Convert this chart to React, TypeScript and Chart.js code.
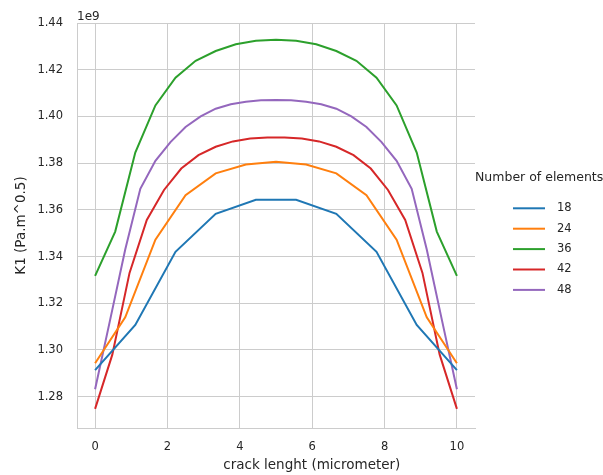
import React, { useEffect, useRef } from 'react';
import { Chart, registerables } from 'chart.js';

Chart.register(...registerables);

// ---- data (K1 values in units of 1e9 Pa.m^0.5) ----
const SERIES_LABELS = ['18', '24', '36', '42', '48'];

const X_18 = [0, 1.111, 2.222, 3.333, 4.444, 5.556, 6.667, 7.778, 8.889, 10];
const K1_18 = [1.2914, 1.3107, 1.342, 1.3583, 1.3643, 1.3643, 1.3583, 1.342, 1.3107, 1.2914];

const X_24 = [0, 0.833, 1.667, 2.5, 3.333, 4.167, 5, 5.833, 6.667, 7.5, 8.333, 9.167, 10];
const K1_24 = [1.2943, 1.314, 1.3472, 1.3663, 1.3756, 1.3794, 1.3806, 1.3794, 1.3756, 1.3663, 1.3472, 1.314, 1.2943];

const X_36 = [0, 0.556, 1.111, 1.667, 2.222, 2.778, 3.333, 3.889, 4.444, 5, 5.556, 6.111, 6.667, 7.222, 7.778, 8.333, 8.889, 9.444, 10];
const K1_36 = [1.3317, 1.3507, 1.3845, 1.4047, 1.4166, 1.4238, 1.428, 1.4309, 1.4324, 1.4328, 1.4324, 1.4309, 1.428, 1.4238, 1.4166, 1.4047, 1.3845, 1.3507, 1.3317];

const X_42 = [0, 0.476, 0.952, 1.429, 1.905, 2.381, 2.857, 3.333, 3.81, 4.286, 4.762, 5.238, 5.714, 6.19, 6.667, 7.143, 7.619, 8.095, 8.571, 9.048, 9.524, 10];
const K1_42 = [1.2748, 1.298, 1.333, 1.3557, 1.3685, 1.3777, 1.3834, 1.387, 1.3893, 1.3905, 1.391, 1.391, 1.3905, 1.3893, 1.387, 1.3834, 1.3777, 1.3685, 1.3557, 1.333, 1.298, 1.2748];

const X_48 = [0, 0.417, 0.833, 1.25, 1.667, 2.083, 2.5, 2.917, 3.333, 3.75, 4.167, 4.583, 5, 5.417, 5.833, 6.25, 6.667, 7.083, 7.5, 7.917, 8.333, 8.75, 9.167, 9.583, 10];
const K1_48 = [1.2832, 1.313, 1.343, 1.369, 1.381, 1.389, 1.3955, 1.4, 1.4033, 1.4052, 1.4063, 1.4069, 1.407, 1.4069, 1.4063, 1.4052, 1.4033, 1.4, 1.3955, 1.389, 1.381, 1.369, 1.343, 1.313, 1.2832];

const X_TICKS = [0, 2, 4, 6, 8, 10];
const Y_TICKS = [1.28, 1.3, 1.32, 1.34, 1.36, 1.38, 1.4, 1.42, 1.44];
const Y_OFFSET_LABEL = '1e9';
const X_TITLE = 'crack lenght (micrometer)';
const Y_TITLE = 'K1 (Pa.m^0.5)';
const LEGEND_TITLE = 'Number of elements';

const COLORS = ['#1f77b4', '#ff7f0e', '#2ca02c', '#d62728', '#9467bd'];
const TEXT = '#262626';
const GRID = '#cccccc';
const FONT = '"DejaVu Sans", sans-serif';

const SERIES_X = [X_18, X_24, X_36, X_42, X_48];
const SERIES_Y = [K1_18, K1_24, K1_36, K1_42, K1_48];

const overlayPlugin = {
  id: 'overlay',
  afterDraw(chart: any) {
    const { ctx, chartArea } = chart;
    ctx.save();
    ctx.fillStyle = TEXT;
    // offset label
    ctx.font = `12px ${FONT}`;
    ctx.textAlign = 'left';
    ctx.textBaseline = 'alphabetic';
    ctx.fillText(Y_OFFSET_LABEL, chartArea.left, chartArea.top - 3);
    // x axis title
    ctx.font = `13.5px ${FONT}`;
    ctx.textAlign = 'center';
    ctx.fillText(X_TITLE, chartArea.left + 0.59 * (chartArea.right - chartArea.left), 469);
    // legend
    const lx = chartArea.right;
    ctx.font = `12.5px ${FONT}`;
    ctx.textAlign = 'left';
    ctx.textBaseline = 'middle';
    ctx.fillText(LEGEND_TITLE, lx, 178);
    ctx.font = `11.5px ${FONT}`;
    chart.data.datasets.forEach((ds: any, i: number) => {
      const y = 208.3 + i * 20.4;
      ctx.strokeStyle = ds.borderColor;
      ctx.lineWidth = 2;
      ctx.beginPath();
      ctx.moveTo(lx + 38, y);
      ctx.lineTo(lx + 70, y);
      ctx.stroke();
      ctx.fillStyle = TEXT;
      ctx.fillText(ds.label, lx + 82, y);
    });
    ctx.restore();
  },
};

export default function App() {
  const ref = useRef<HTMLCanvasElement | null>(null);

  useEffect(() => {
    if (!ref.current) return;
    const datasets = SERIES_LABELS.map((label, i) => ({
      label,
      data: SERIES_X[i].map((x, j) => ({ x, y: SERIES_Y[i][j] })),
      borderColor: COLORS[i],
      backgroundColor: COLORS[i],
      borderWidth: 2,
      pointRadius: 0,
      tension: 0,
      fill: false,
    }));
    const chart = new Chart(ref.current, {
      type: 'line',
      data: { datasets },
      plugins: [overlayPlugin],
      options: {
        animation: false,
        responsive: false,
        maintainAspectRatio: false,
        layout: { padding: { top: 23, right: 128, left: 0, bottom: 0 } },
        plugins: { legend: { display: false }, tooltip: { enabled: false } },
        scales: {
          x: {
            type: 'linear',
            min: -0.5,
            max: 10.5,
            afterFit: (s: any) => { s.height = 47; },
            afterBuildTicks: (s: any) => { s.ticks = X_TICKS.map((v) => ({ value: v })); },
            grid: { color: GRID, lineWidth: 1, drawTicks: false },
            border: { display: true, color: GRID, width: 1 },
            ticks: {
              color: TEXT,
              font: { family: FONT, size: 11.5 },
              padding: 12,
              maxRotation: 0,
              callback: (v: any) => String(v),
            },
          },
          y: {
            type: 'linear',
            min: 1.2666,
            max: 1.44,
            afterFit: (s: any) => { s.width = 77; },
            afterBuildTicks: (s: any) => { s.ticks = Y_TICKS.map((v) => ({ value: v })); },
            grid: { color: GRID, lineWidth: 1, drawTicks: false },
            border: { display: true, color: GRID, width: 1 },
            ticks: {
              color: TEXT,
              font: { family: FONT, size: 11.5 },
              padding: 14,
              callback: (v: any) => Number(v).toFixed(2),
            },
            title: {
              display: true,
              text: Y_TITLE,
              color: TEXT,
              font: { family: FONT, size: 13.5 },
              padding: { top: 13.6, bottom: 0 },
            },
          },
        },
      },
    } as any);
    return () => chart.destroy();
  }, []);

  return (
    <div style={{ position: 'absolute', left: 0, top: 0, width: 603, height: 475, background: '#fff' }}>
      <canvas ref={ref} width={603} height={475} style={{ width: 603, height: 475, display: 'block' }} />
    </div>
  );
}
